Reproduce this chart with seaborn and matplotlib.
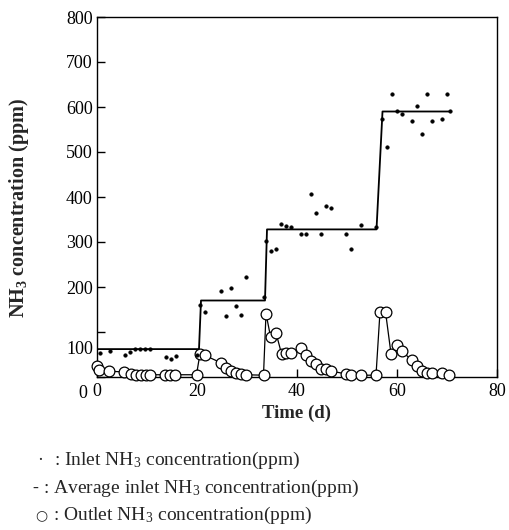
import matplotlib
matplotlib.use("Agg")
import matplotlib.pyplot as plt
import matplotlib.transforms as mtransforms
import seaborn as sns
import pandas as pd

# ---- data ----
inlet_day = [0.6, 2.6, 5.6, 6.6, 7.6, 8.6, 9.6, 10.6, 13.8, 14.7, 15.7, 19.9,
             20.6, 21.6, 24.7, 25.7, 26.7, 27.7, 28.7, 29.7, 33.3,
             33.8, 34.8, 35.7, 36.8, 37.8, 38.8, 40.8, 41.8, 42.8, 43.8, 44.8,
             45.8, 46.8, 49.8, 50.8, 52.8, 55.7,
             56.9, 57.9, 58.9, 59.9, 60.9, 62.9, 63.9, 64.9, 66.0, 66.9, 68.9,
             70.0, 70.5]
inlet_ppm = [53, 57, 49, 56, 62, 63, 63, 63, 45, 41, 47, 49,
             160, 145, 192, 136, 197, 158, 138, 223, 178,
             303, 281, 284, 339, 336, 333, 317, 317, 407, 365, 317,
             381, 375, 317, 284, 338, 334,
             573, 512, 628, 591, 584, 570, 603, 541, 628, 570, 573,
             628, 591]

avg_day = [0, 20.4, 20.8, 33.6, 34.0, 55.9, 57.1, 70.5]
avg_ppm = [62, 62, 170, 170, 328, 328, 590, 590]

outlet_day = [0, 0.5, 2.5, 5.5, 6.7, 7.7, 8.7, 9.7, 10.6, 13.5, 14.5, 15.5,
              19.9, 20.6, 21.6, 24.7, 25.7, 26.7, 27.7, 28.7, 29.7,
              33.3, 33.8, 34.7, 35.8, 36.9, 37.8, 38.7, 40.8, 41.8, 42.8,
              43.8, 44.8, 45.8, 46.8, 49.8, 50.8, 52.8, 55.8,
              56.6, 57.7, 58.8, 59.9, 60.9, 62.9, 63.9, 64.9, 65.9, 66.9,
              68.9, 70.3]
outlet_ppm = [25, 16, 13, 11, 6, 5, 5, 5, 5, 5, 5, 5,
              5, 52, 48, 32, 20, 14, 9, 7, 5,
              4, 141, 90, 98, 52, 53, 53, 65, 48, 36,
              30, 18, 17, 13, 7, 4, 4, 4,
              145, 145, 52, 71, 58, 38, 24, 13, 10, 8,
              10, 4]

x_ticks = [0, 20, 40, 60, 80]
y_ticks = [0, 100, 200, 300, 400, 500, 600, 700, 800]

x_label = "Time (d)"
y_label = r"NH$_\mathbf{3}$ concentration (ppm)"
legend_symbols = ["·", "-", "○"]
legend_texts = [
    r": Inlet NH$_3$ concentration(ppm)",
    r": Average inlet NH$_3$ concentration(ppm)",
    r": Outlet NH$_3$ concentration(ppm)",
]

# ---- style ----
sns.set_theme(style="ticks")
plt.rcParams["font.family"] = ["Liberation Serif", "DejaVu Serif"]
plt.rcParams["mathtext.fontset"] = "custom"
plt.rcParams["mathtext.rm"] = "Liberation Serif"
plt.rcParams["mathtext.it"] = "Liberation Serif:italic"
plt.rcParams["mathtext.bf"] = "Liberation Serif:bold"

fig = plt.figure(figsize=(5.1, 5.3), dpi=100)
ax = fig.add_axes([97 / 510, 1 - 377 / 530, 400 / 510, 360 / 530])

inlet = pd.DataFrame({"day": inlet_day, "ppm": inlet_ppm})
avg = pd.DataFrame({"day": avg_day, "ppm": avg_ppm})
outlet = pd.DataFrame({"day": outlet_day, "ppm": outlet_ppm})

sns.lineplot(data=avg, x="day", y="ppm", sort=False, color="black",
             linewidth=1.3, ax=ax, zorder=2)
sns.lineplot(data=outlet, x="day", y="ppm", sort=False, color="black",
             linewidth=0.9, ax=ax, zorder=3)
sns.scatterplot(data=outlet, x="day", y="ppm", marker="o", s=60,
                facecolor="white", edgecolor="black", linewidth=0.9,
                ax=ax, zorder=4, clip_on=False)
sns.scatterplot(data=inlet, x="day", y="ppm", marker="o", s=7,
                color="black", edgecolor="black", linewidth=0.3,
                ax=ax, zorder=5)

ax.set_xlim(0, 80)
ax.set_ylim(0, 800)
ax.set_xticks(x_ticks)
ax.set_yticks(y_ticks)
ax.set_xticklabels([str(v) for v in x_ticks])
ax.set_yticklabels([str(v) for v in y_ticks])

for sp in ax.spines.values():
    sp.set_visible(True)
    sp.set_color("black")
    sp.set_linewidth(1.0)

ax.tick_params(axis="both", direction="in", length=6, width=1.0,
               labelsize=13, colors="black", pad=4)
ax.tick_params(axis="y", pad=3)

# shift "0" and "100" y tick labels down as in the reference
shift = mtransforms.ScaledTranslation(0, -15 / 100, fig.dpi_scale_trans)
for lab in ax.get_yticklabels():
    if lab.get_text() in ("0", "100"):
        lab.set_transform(lab.get_transform() + shift)
ax.get_yticklabels()[0].set_transform(
    ax.get_yticklabels()[0].get_transform()
    + mtransforms.ScaledTranslation(-6 / 100, 0, fig.dpi_scale_trans))

ax.set_xlabel(x_label, fontsize=13.5, fontweight="bold", labelpad=4)
ax.set_ylabel(y_label, fontsize=14.5, fontweight="bold")
ax.yaxis.set_label_coords((31 - 97) / 400, 0.47)

ys = [460, 488, 515]
sym_x = [37, 32, 35]
sym_size = [13, 13, 10]
txt_x = [54, 43, 53]
for s, t, yy, sx, fs, tx in zip(legend_symbols, legend_texts, ys, sym_x,
                                sym_size, txt_x):
    fig.text(sx / 510, 1 - yy / 530, s, fontsize=fs, va="center", ha="left",
             family=["DejaVu Sans"] if s == "○" else ["Liberation Serif"])
    fig.text(tx / 510, 1 - yy / 530, t, fontsize=14, va="center", ha="left")

fig.savefig("out.png", dpi=100)
